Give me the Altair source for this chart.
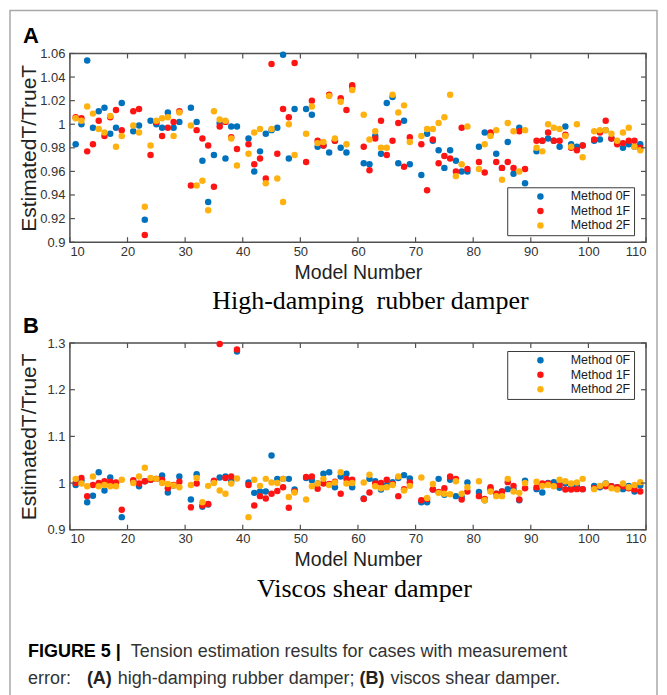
import altair as alt
import pandas as pd

# ---------------- data ----------------
models = [11, 12, 13, 14, 15, 16, 17, 18, 19,
          21, 22, 23, 24, 25, 26, 27, 28, 29,
          31, 32, 33, 34, 35, 36, 37, 38, 39,
          41, 42, 43, 44, 45, 46, 47, 48, 49,
          51, 52, 53, 54, 55, 56, 57, 58, 59,
          61, 62, 63, 64, 65, 66, 67, 68, 69,
          71, 72, 73, 74, 75, 76, 77, 78, 79,
          81, 82, 83, 84, 85, 86, 87, 88, 89,
          91, 92, 93, 94, 95, 96, 97, 98, 99,
          101, 102, 103, 104, 105, 106, 107, 108, 109]

methods = ["Method 0F", "Method 1F", "Method 2F"]
colors = ["#0072BD", "#FF1414", "#FFB20F"]

# Panel A: high-damping rubber damper
a_0f = [0.983, 1.000, 1.054, 0.997, 1.011, 1.014, 0.992, 0.997, 1.018,
        0.994, 0.999, 0.919, 1.003, 1.000, 0.997, 1.010, 0.997, 1.002,
        1.014, 1.002, 0.969, 0.934, 0.974, 1.001, 0.971, 0.998, 0.998,
        0.988, 0.960, 0.977, 0.992, 0.995, 0.997, 1.059, 0.971, 1.013,
        1.013, 1.008, 0.981, 0.982, 0.976, 0.986, 0.980, 0.976, 1.031,
        0.967, 0.966, 0.990, 0.975, 1.018, 1.023, 0.967, 1.003, 0.966,
        0.957, 0.992, 0.986, 0.978, 0.963, 0.978, 0.969, 0.960, 0.960,
        0.981, 0.993, 0.992, 0.975, 0.963, 0.985, 0.958, 0.997, 0.950,
        0.977, 0.986, 0.988, 0.986, 0.981, 0.998, 0.983, 0.981, 0.982,
        0.986, 0.987, 0.995, 0.988, 0.985, 0.980, 0.983, 0.981, 0.983]
a_1f = [1.006, 1.005, 0.977, 0.983, 1.003, 0.990, 1.006, 1.012, 0.995,
        1.011, 1.013, 0.906, 0.974, 1.002, 0.990, 0.997, 1.002, 1.011,
        0.948, 0.995, 0.988, 0.982, 0.947, 0.998, 1.002, 0.989, 0.979,
        0.983, 0.966, 0.971, 0.954, 1.051, 0.975, 1.013, 1.006, 1.052,
        0.968, 1.020, 0.986, 0.982, 1.025, 0.986, 1.022, 1.012, 1.033,
        0.981, 0.961, 0.988, 1.003, 0.974, 0.986, 1.001, 0.964, 0.989,
        0.983, 0.944, 0.987, 0.967, 0.973, 0.971, 0.960, 0.997, 0.962,
        0.968, 0.959, 0.993, 0.968, 0.963, 0.968, 0.963, 0.994, 0.962,
        0.986, 0.986, 0.993, 0.986, 0.986, 0.991, 0.980, 0.978, 0.982,
        0.987, 0.993, 1.003, 0.988, 0.983, 0.984, 0.986, 0.986, 0.980]
a_2f = [1.005, 1.003, 1.015, 1.009, 0.996, 0.993, 1.007, 0.981, 0.990,
        0.999, 0.993, 0.930, 0.982, 1.003, 1.005, 1.006, 0.990, 1.010,
        0.999, 0.948, 0.952, 0.927, 1.011, 1.004, 1.003, 0.988, 0.965,
        0.975, 0.993, 0.996, 0.950, 0.996, 0.954, 0.934, 1.000, 0.974,
        0.992, 1.015, 0.984, 0.985, 1.024, 0.988, 1.019, 0.983, 1.029,
        1.008, 0.987, 0.994, 0.980, 0.980, 1.025, 1.010, 1.016, 0.985,
        0.990, 0.996, 0.996, 1.001, 1.006, 1.025, 0.956, 0.966, 0.998,
        0.962, 0.983, 0.990, 0.995, 0.953, 1.001, 0.994, 0.960, 0.995,
        0.980, 0.977, 1.000, 0.997, 0.996, 0.990, 0.981, 1.000, 0.972,
        0.994, 0.995, 0.995, 0.992, 0.986, 0.993, 0.997, 0.981, 0.978]

# Panel B: viscous shear damper
b_0f = [0.996, 1.005, 0.959, 0.973, 1.023, 0.984, 1.012, 1.000, 0.927,
        1.004, 0.993, 1.004, 1.007, 1.009, 1.016, 0.980, 0.995, 1.014,
        0.965, 1.019, 0.949, 0.954, 1.003, 1.012, 1.014, 1.004, 1.282,
        1.001, 0.979, 0.982, 0.982, 1.059, 1.009, 1.009, 1.009, 0.986,
        1.011, 1.006, 0.999, 1.020, 1.023, 0.991, 1.014, 1.020, 0.991,
        0.967, 1.009, 1.004, 0.986, 0.996, 1.002, 1.011, 1.017, 1.010,
        0.959, 0.959, 0.986, 1.009, 0.975, 1.007, 0.972, 0.970, 1.001,
        0.981, 0.963, 0.987, 0.977, 0.982, 0.987, 0.987, 0.963, 1.005,
        0.987, 0.980, 1.000, 1.002, 0.990, 0.999, 0.990, 0.993, 0.987,
        0.994, 0.991, 0.999, 0.993, 0.991, 0.987, 0.994, 0.982, 0.995]
b_1f = [1.000, 1.011, 0.972, 0.996, 1.000, 1.004, 1.003, 1.001, 0.943,
        1.006, 0.999, 1.004, 1.007, 1.009, 1.007, 0.989, 0.996, 1.003,
        0.948, 0.999, 0.952, 0.955, 1.005, 1.298, 1.011, 1.014, 1.286,
        0.996, 0.952, 0.972, 0.967, 0.977, 0.983, 0.991, 0.947, 0.982,
        1.013, 1.014, 0.988, 0.999, 0.998, 1.003, 0.977, 1.009, 1.007,
        0.966, 0.980, 0.999, 1.000, 1.007, 0.998, 0.972, 0.987, 1.001,
        0.963, 0.966, 0.986, 0.981, 0.989, 1.014, 1.009, 0.965, 0.982,
        0.972, 0.966, 0.991, 0.977, 0.982, 1.002, 0.994, 0.965, 0.989,
        0.991, 0.999, 0.999, 0.994, 0.996, 0.986, 0.986, 0.987, 0.987,
        0.989, 0.993, 0.993, 0.993, 0.991, 0.993, 0.989, 0.986, 0.982]
b_2f = [1.009, 0.999, 0.993, 1.014, 0.993, 0.996, 0.993, 0.993, 1.007,
        1.000, 1.014, 1.033, 1.011, 1.009, 1.000, 0.998, 0.995, 0.991,
        0.996, 1.011, 0.959, 0.994, 1.000, 0.984, 0.977, 0.999, 1.010,
        0.927, 1.007, 0.994, 1.009, 1.001, 1.000, 1.009, 0.970, 0.980,
        0.965, 0.993, 0.999, 1.009, 0.996, 1.001, 1.023, 0.999, 1.000,
        1.001, 1.018, 0.993, 0.989, 0.991, 0.996, 1.014, 0.984, 0.994,
        1.012, 0.968, 0.998, 0.979, 0.977, 0.976, 1.004, 0.977, 0.991,
        1.004, 0.963, 0.982, 0.972, 0.972, 1.009, 0.982, 0.979, 1.000,
        1.003, 0.994, 0.996, 0.993, 1.007, 1.004, 0.999, 1.001, 1.009,
        0.987, 0.994, 0.999, 0.989, 0.986, 0.999, 0.991, 0.996, 1.002]

x_ticks = [10, 20, 30, 40, 50, 60, 70, 80, 90, 100, 110]
a_ticks = [0.9, 0.92, 0.94, 0.96, 0.98, 1.0, 1.02, 1.04, 1.06]
b_ticks = [0.9, 1.0, 1.1, 1.2, 1.3]

# ---------------- layout constants ----------------
W = 577
HA = 189
HB = 187
AX = "#505050"
FONT = "Liberation Sans"


def long_df(series):
    rows = []
    for k, (name, vals) in enumerate(zip(methods, series)):
        for m, v in zip(models, vals):
            rows.append({"model": m, "value": v, "method": name, "k": k})
    return pd.DataFrame(rows)


def panel(df, ydom, yticks, H, legend_y, letter, title, title_x, title_y, extra=None):
    xs = alt.Scale(domain=[10, 110], nice=False, zero=False)
    ys = alt.Scale(domain=ydom, nice=False, zero=False)
    x_axis = alt.Axis(values=x_ticks, format="d", title="Model Number",
                      labelPadding=3, titlePadding=5, titleFontSize=19.5)
    y_axis = alt.Axis(values=yticks, format=".2~f", title="EstimatedT/TrueT",
                      labelPadding=5, titleX=-34, titleY=H / 2,
                      titleAlign="center", titleBaseline="alphabetic",
                      titleAngle=270, titleFontSize=21)

    pts = alt.Chart(df).mark_circle(size=42, opacity=1).encode(
        x=alt.X("model:Q", scale=xs, axis=x_axis),
        y=alt.Y("value:Q", scale=ys, axis=y_axis),
        color=alt.Color("method:N",
                        scale=alt.Scale(domain=methods, range=colors),
                        legend=alt.Legend(title=None, orient="none", legendX=438,
                                          legendY=legend_y, strokeColor="#3a3a3a",
                                          fillColor="white", padding=3,
                                          symbolOffset=24, labelOffset=24,
                                          symbolType="circle", symbolSize=42,
                                          labelFont=FONT, labelFontSize=12.5,
                                          labelColor="#1a1a1a", rowPadding=1.5)),
        order=alt.Order("k:Q"),
    )

    xt = pd.DataFrame({"model": x_ticks})
    yt = pd.DataFrame({"value": yticks})
    tick_bottom = alt.Chart(xt).mark_rule(color=AX, strokeWidth=1.2).encode(
        x=alt.X("model:Q", scale=xs, axis=x_axis), y=alt.value(H), y2=alt.value(H - 5))
    tick_top = alt.Chart(xt).mark_rule(color=AX, strokeWidth=1.2).encode(
        x=alt.X("model:Q", scale=xs, axis=x_axis), y=alt.value(0), y2=alt.value(5))
    tick_left = alt.Chart(yt).mark_rule(color=AX, strokeWidth=1.2).encode(
        y=alt.Y("value:Q", scale=ys, axis=y_axis), x=alt.value(0), x2=alt.value(5))
    tick_right = alt.Chart(yt).mark_rule(color=AX, strokeWidth=1.2).encode(
        y=alt.Y("value:Q", scale=ys, axis=y_axis), x=alt.value(W - 5), x2=alt.value(W))

    letter_t = alt.Chart(pd.DataFrame({"s": [letter]})).mark_text(
        font=FONT, fontSize=22, fontWeight="bold", color="black",
        align="left", baseline="alphabetic").encode(
        text="s:N", x=alt.value(-47), y=alt.value(-10))

    title_t = alt.Chart(pd.DataFrame({"s": [title]})).mark_text(
        font="Liberation Serif", fontSize=26, color="black",
        align="center", baseline="middle").encode(
        text="s:N", x=alt.value(title_x), y=alt.value(title_y))

    layers = [pts, tick_bottom, tick_top, tick_left, tick_right, letter_t, title_t]
    if extra:
        layers += extra
    return alt.layer(*layers).properties(width=W, height=H)


# frame around the whole figure (panel A coordinates)
frame = alt.Chart(pd.DataFrame({"s": ["frame"]})).mark_rect(
    fillOpacity=0, stroke="#a8a8a8", strokeWidth=1.5).encode(
    x=alt.value(-60), x2=alt.value(588), y=alt.value(-43), y2=alt.value(660))

cap_parts = [
    ("FIGURE 5 |", -42, 309, "bold", "black"),
    ("Tension estimation results for cases with measurement", 61, 309, "normal", "#333333"),
    ("error:", -42, 336, "normal", "#333333"),
    ("(A)", 17, 336, "bold", "#222222"),
    ("high-damping rubber damper;", 48, 336, "normal", "#333333"),
    ("(B)", 290, 336, "bold", "#222222"),
    ("viscos shear damper.", 321, 336, "normal", "#333333"),
]
caption = []
for s, x, y, w, c in cap_parts:
    caption.append(
        alt.Chart(pd.DataFrame({"s": [s]})).mark_text(
            font=FONT, fontSize=18, fontWeight=w, color=c,
            align="left", baseline="middle").encode(
            text="s:N", x=alt.value(x), y=alt.value(y)))

pa = panel(long_df([a_0f, a_1f, a_2f]), [0.9, 1.06], a_ticks, HA, 134, "A",
           "High-damping\u00a0 rubber damper", 301, 248, extra=[frame])
pb = panel(long_df([b_0f, b_1f, b_2f]), [0.9, 1.3], b_ticks, HB, 8, "B",
           "Viscos shear damper", 295, 246, extra=caption)

chart = alt.vconcat(pa, pb, spacing=101, bounds="flush").resolve_scale(
    color="independent").properties(
    padding={"left": 0, "top": 0, "right": 0, "bottom": 0},
    background="white").configure(padding=0).configure_view(
    stroke=AX, strokeWidth=1.5).configure_axis(
    domain=False, ticks=False, grid=False,
    labelFont=FONT, labelFontSize=13, labelColor="#333333",
    titleFont=FONT, titleFontWeight="normal", titleColor="#222222")

chart.save("out.html", embed_options={"renderer": "svg", "actions": False})
